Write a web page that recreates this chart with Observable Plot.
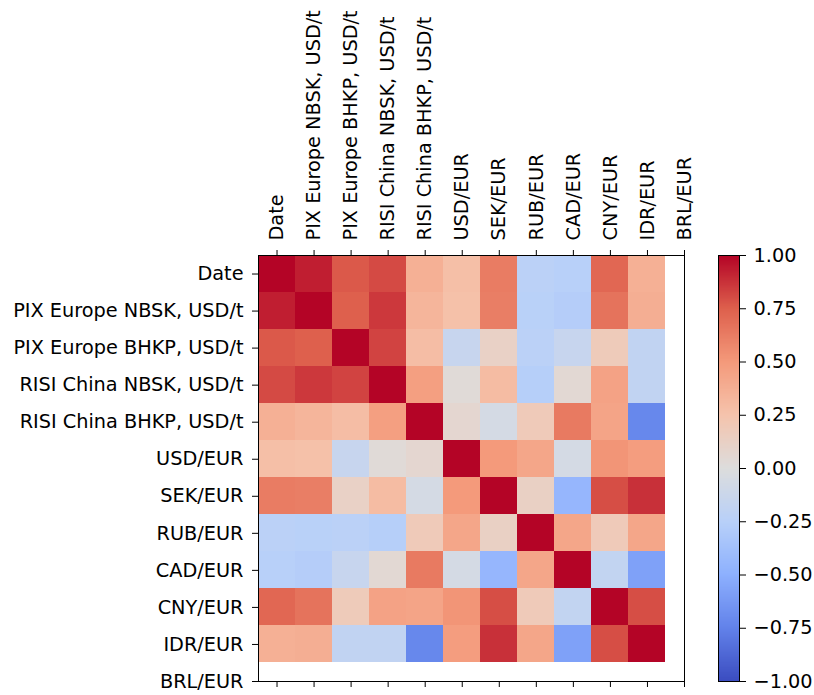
<!DOCTYPE html>
<html><head><meta charset="utf-8">
<script src="https://cdn.jsdelivr.net/npm/d3@7"></script>
<script src="https://cdn.jsdelivr.net/npm/@observablehq/plot@0.6"></script>
<style>
html,body{margin:0;padding:0;background:#fff;}
#wrap{position:relative;width:814px;height:695px;overflow:hidden;}
#heat{position:absolute;left:0;top:0;}
#bar{position:absolute;left:700px;top:0;}
</style></head><body><div id="wrap"><div id="heat"></div><div id="bar"></div></div>
<script>
const labels = ["Date","PIX Europe NBSK, USD/t","PIX Europe BHKP, USD/t","RISI China NBSK, USD/t","RISI China BHKP, USD/t","USD/EUR","SEK/EUR","RUB/EUR","CAD/EUR","CNY/EUR","IDR/EUR","BRL/EUR"];

const rowDate     = [ 1.00,  0.93,  0.77,  0.81,  0.37,  0.28,  0.63, -0.23, -0.25,  0.72,  0.37, null];
const rowPixNbsk  = [ 0.93,  1.00,  0.75,  0.86,  0.34,  0.27,  0.62, -0.24, -0.27,  0.67,  0.38, null];
const rowPixBhkp  = [ 0.77,  0.75,  1.00,  0.83,  0.29, -0.15,  0.12, -0.23, -0.15,  0.18, -0.19, null];
const rowRisiNbsk = [ 0.81,  0.86,  0.83,  1.00,  0.47,  0.03,  0.30, -0.26,  0.05,  0.45, -0.19, null];
const rowRisiBhkp = [ 0.37,  0.34,  0.29,  0.47,  1.00,  0.07, -0.06,  0.19,  0.64,  0.44, -0.72, null];
const rowUsd      = [ 0.28,  0.27, -0.15,  0.03,  0.07,  1.00,  0.50,  0.43, -0.06,  0.52,  0.48, null];
const rowSek      = [ 0.63,  0.62,  0.12,  0.30, -0.06,  0.50,  1.00,  0.13, -0.45,  0.80,  0.88, null];
const rowRub      = [-0.23, -0.24, -0.23, -0.26,  0.19,  0.43,  0.13,  1.00,  0.43,  0.19,  0.43, null];
const rowCad      = [-0.25, -0.27, -0.15,  0.05,  0.64, -0.06, -0.45,  0.43,  1.00, -0.18, -0.58, null];
const rowCny      = [ 0.72,  0.67,  0.18,  0.45,  0.44,  0.52,  0.80,  0.19, -0.18,  1.00,  0.80, null];
const rowIdr      = [ 0.37,  0.38, -0.19, -0.19, -0.72,  0.48,  0.88,  0.43, -0.58,  0.80,  1.00, null];
const rowBrl      = [ null,  null,  null,  null,  null,  null,  null,  null,  null,  null,  null, null];

const colorbarTicks = [-1, -0.75, -0.5, -0.25, 0, 0.25, 0.5, 0.75, 1];
const coolwarm = ["#3b4cc0","#6282ea","#8db0fe","#b8d0f9","#dddddd","#f5c4ad","#f49a7b","#de604d","#b40426"];

const corr = [rowDate,rowPixNbsk,rowPixBhkp,rowRisiNbsk,rowRisiBhkp,rowUsd,rowSek,rowRub,rowCad,rowCny,rowIdr,rowBrl];
const cells = [];
corr.forEach((row, i) => row.forEach((v, j) => { if (v != null) cells.push({row: i, col: j, value: v}); }));
const idx = labels.map((_, i) => i);

const colorScale = {type: "linear", domain: [-1, 1], interpolate: d3.piecewise(d3.interpolateRgb, coolwarm)};
const font = {fontFamily: "'DejaVu Sans', sans-serif", fontSize: "19.3px", color: "#000", background: "#fff"};

const heat = Plot.plot({
  width: 700, height: 695,
  marginLeft: 258, marginRight: 16, marginTop: 255, marginBottom: 14,
  style: font,
  x: {type: "linear", domain: [-0.5, 11], axis: null, label: null},
  y: {type: "linear", domain: [-0.5, 11], reverse: true, axis: null, label: null},
  color: colorScale,
  marks: [
    Plot.rect(cells, {
      x1: d => d.col - 0.5, x2: d => d.col + 0.5,
      y1: d => d.row - 0.5, y2: d => d.row + 0.5,
      fill: "value", clip: true, shapeRendering: "crispEdges"
    }),
    Plot.frame({stroke: "#000", strokeWidth: 1}),
    Plot.axisX({anchor: "top", ticks: idx, tickFormat: i => labels[i], tickRotate: -90, tickSize: 6, tickPadding: 9, label: null}),
    Plot.axisX({anchor: "bottom", ticks: idx, tickFormat: () => "", tickSize: 6, label: null}),
    Plot.axisY({anchor: "left", ticks: idx, tickFormat: i => labels[i], tickSize: 6, tickPadding: 9, label: null})
  ]
});
document.getElementById("heat").appendChild(heat);

const bar = Plot.plot({
  width: 114, height: 695,
  marginLeft: 18, marginRight: 75, marginTop: 255, marginBottom: 14,
  style: font,
  x: {domain: [0, 1], axis: null},
  y: {domain: [-1, 1], axis: null},
  color: colorScale,
  marks: [
    Plot.raster({fill: (x, y) => y, x1: 0, x2: 1, y1: -1, y2: 1, width: 1, height: 256, imageRendering: "auto"}),
    Plot.frame({stroke: "#000", strokeWidth: 1}),
    Plot.axisY({anchor: "right", ticks: colorbarTicks, tickFormat: d3.format(".2f"), tickSize: 6, tickPadding: 8, label: null})
  ]
});
document.getElementById("bar").appendChild(bar);
</script></body></html>
